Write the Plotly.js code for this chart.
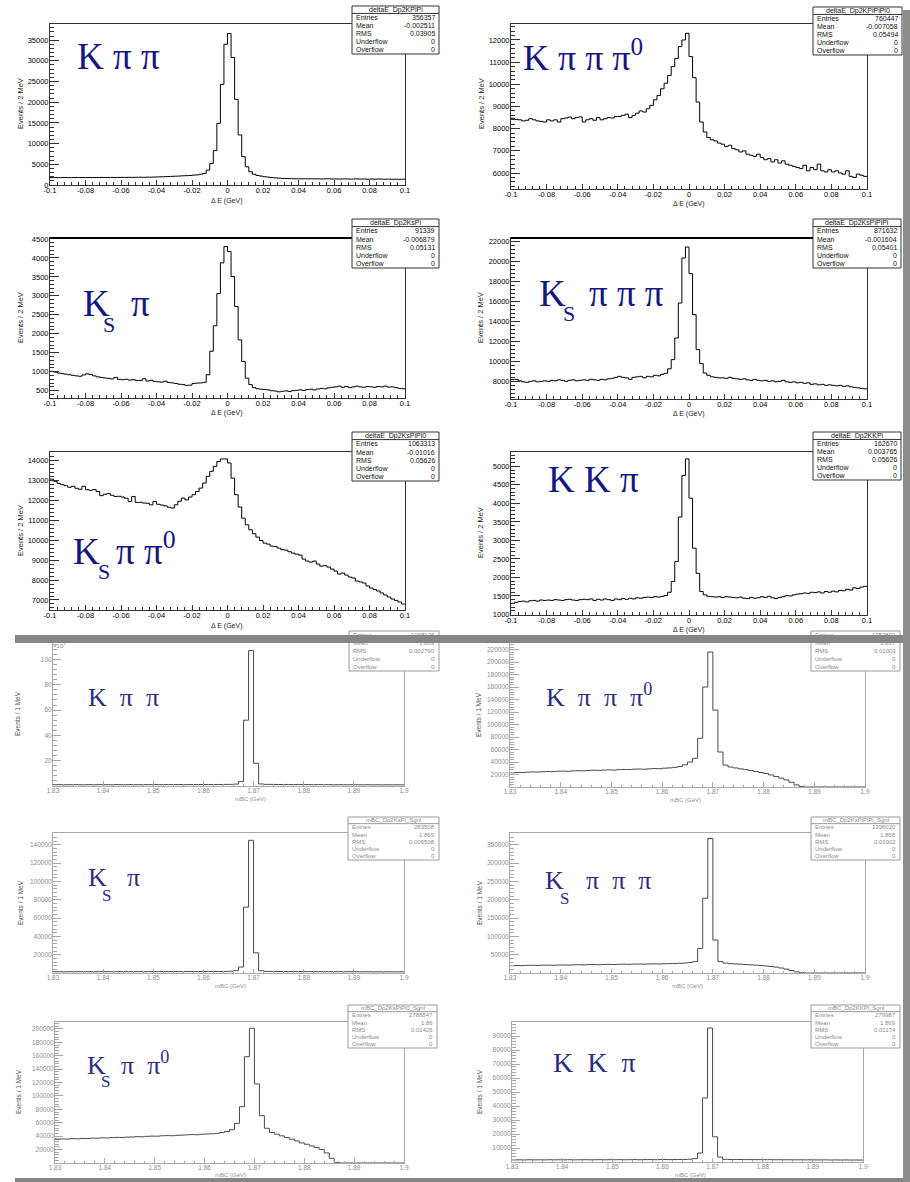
<!DOCTYPE html>
<html><head><meta charset="utf-8">
<script src="https://cdn.plot.ly/plotly-3.0.1.min.js"></script>
<style>html,body{margin:0;padding:0;background:#fff}#chart{width:910px;height:1182px}</style>
</head><body><div id="chart"></div>
<script>
// ---------------- DATA ----------------
const dE_range = [-0.1, 0.1];
const mBC_range = [1.83, 1.90];
const dE_tickVals = [-0.1,-0.08,-0.06,-0.04,-0.02,0,0.02,0.04,0.06,0.08,0.1];
const dE_tickText = ["-0.1","-0.08","-0.06","-0.04","-0.02","0","0.02","0.04","0.06","0.08","0.1"];
const mBC_tickVals = [1.83,1.84,1.85,1.86,1.87,1.88,1.89,1.9];
const mBC_tickText = ["1.83","1.84","1.85","1.86","1.87","1.88","1.89","1.9"];

const dE_KPiPi = [1780,1800,1770,1790,1810,1780,1800,1790,1810,1800,
 1790,1820,1800,1810,1830,1800,1820,1840,1810,1830,
 1850,1830,1860,1840,1870,1880,1860,1900,1890,1920,
 1950,1980,2010,2050,2090,2130,2170,2220,2260,2300,
 2380,2450,2600,2800,3600,5200,8300,14900,24300,34000,
 36600,30800,20700,12100,6850,4400,3200,2600,2300,2150,
 2000,1900,1800,1720,1650,1600,1560,1540,1520,1500,
 1490,1510,1480,1500,1470,1490,1460,1480,1500,1450,
 1470,1440,1460,1480,1430,1450,1470,1420,1460,1400,
 1440,1410,1450,1420,1400,1430,1390,1410,1380,1400];
const dE_KPiPiPi0 = [8470,8420,8400,8350,8380,8450,8400,8350,8330,8300,
 8400,8350,8400,8300,8450,8480,8520,8450,8500,8530,
 8300,8400,8450,8380,8500,8400,8450,8500,8480,8550,
 8550,8600,8650,8500,8600,8700,8800,8750,8900,9050,
 9300,9500,9800,10050,10400,10800,11170,11700,12000,12300,
 11250,10300,9200,8300,7850,7600,7500,7450,7350,7300,
 7200,7250,7100,7050,6950,7000,6850,6800,6750,6850,
 6700,6600,6650,6500,6600,6450,6550,6400,6350,6300,
 6250,6200,6350,6100,6250,6150,6400,6100,6050,6150,
 6050,6100,6000,5950,6100,5850,5800,5950,5900,5850];
const dE_KsPi = [1010,990,965,950,935,920,905,890,880,915,
 945,925,890,865,850,835,825,810,850,800,
 790,800,780,790,770,765,815,755,775,745,
 735,725,750,715,705,690,670,660,640,645,
 690,700,705,720,920,1540,2210,3060,3870,4300,
 4170,3510,2720,1840,1270,830,660,580,550,540,
 530,520,500,490,470,485,495,480,500,510,
 520,505,530,540,520,545,560,550,575,590,
 600,620,590,610,580,600,620,600,590,610,
 600,590,610,600,620,595,600,580,560,550];
const dE_KsPiPiPi = [8170,8200,8050,7950,7900,8000,8050,7950,8000,8050,
 8000,8100,8050,8150,8100,8000,8100,8150,8050,8100,
 8150,8100,8200,8150,8100,8200,8150,8250,8300,8400,
 8500,8400,8350,8200,8400,8450,8500,8350,8500,8450,
 8600,8550,8700,8800,9250,10170,12330,15830,20330,21430,
 18770,14670,11170,9770,8830,8600,8450,8400,8350,8350,
 8300,8400,8300,8250,8200,8250,8150,8100,8200,8100,
 8050,8100,8000,8050,7950,8000,8100,7950,7900,7950,
 7850,7900,7800,7850,7700,7750,7650,7700,7600,7650,
 7600,7550,7600,7500,7550,7450,7400,7350,7300,7250];
const dE_KsPiPi0 = [13060,12950,12850,12780,12730,12650,12700,12600,12550,12700,
 12530,12500,12530,12440,12230,12300,12330,12250,12190,12200,
 12160,12100,11940,12190,11890,11900,11860,11850,11770,11940,
 11800,11760,11720,11650,11610,11770,11950,12110,12020,12160,
 12280,12440,12610,12860,13200,13450,13700,13950,14070,14070,
 13870,13110,12280,11660,11100,10770,10520,10320,10150,9980,
 9850,9800,9700,9680,9600,9520,9500,9420,9350,9300,
 9250,9050,8950,8900,8950,8800,8700,8720,8650,8550,
 8450,8300,8350,8250,8150,8100,7950,7900,7850,7700,
 7600,7520,7450,7350,7250,7150,7050,6980,6900,6800];
const dE_KKPi = [1300,1330,1350,1360,1340,1370,1380,1360,1390,1380,
 1390,1380,1400,1390,1380,1400,1410,1390,1380,1400,
 1410,1400,1420,1380,1410,1390,1420,1400,1380,1420,
 1400,1430,1410,1440,1420,1450,1440,1460,1470,1460,
 1480,1470,1490,1510,1600,1890,2430,3630,4750,5200,
 4140,2790,2110,1620,1530,1490,1480,1470,1480,1460,
 1480,1470,1460,1450,1470,1440,1430,1460,1440,1450,
 1480,1460,1490,1450,1430,1460,1480,1510,1500,1530,
 1550,1560,1580,1570,1600,1590,1610,1580,1620,1600,
 1630,1610,1650,1640,1680,1660,1720,1700,1740,1760];

const mBC_KPiPi = [1000,1050,980,1020,1100,990,1030,1060,1010,1080,
 1040,1000,1090,1050,1020,1110,1070,1030,1120,1060,
 1100,1080,1140,1090,1120,1150,1100,1170,1130,1160,
 1190,1150,1200,1180,1250,1300,1500,3500,52000,107000,
 18000,1600,1300,1250,1200,1180,1220,1150,1170,1120,
 1140,1100,1080,1110,1050,1070,1020,1040,990,1010,
 980,960,1000,950,970,930,950,910,940,900];
const mBC_KPiPiPi0 = [22900,23300,23100,23800,24100,23900,24500,24800,24600,25200,
 25400,25100,25800,26100,25900,26500,26800,26600,27200,27400,
 27100,27800,28100,27900,28500,28700,28400,29100,29500,29300,
 30100,30600,31400,32800,35500,40000,46000,78000,160000,216000,
 123000,56000,35000,32000,30500,29000,27800,26300,24900,23200,
 21600,19300,16700,14100,11400,7600,3400,600,0,0,
 0,0,0,0,0,0,0,0,0,0];
const mBC_KsPi = [1400,1450,1380,1500,1420,1470,1390,1510,1440,1480,
 1460,1520,1430,1490,1550,1470,1510,1540,1480,1560,
 1520,1580,1500,1550,1600,1530,1590,1620,1560,1610,
 1650,1600,1680,1700,1750,1900,2500,6500,72000,145000,
 22000,2500,1800,1700,1650,1680,1600,1620,1570,1590,
 1540,1560,1500,1530,1480,1510,1450,1470,1420,1440,
 1400,1380,1410,1350,1370,1330,1360,1300,1320,1280];
const mBC_KsPiPiPi = [20000,20400,20200,20800,21000,20700,21300,21500,21200,21800,
 22000,21700,22300,22500,22200,22800,23000,22700,23300,23500,
 23200,23800,24000,23700,24300,24500,24200,24800,25000,24700,
 25300,25600,26000,26500,27200,28500,31000,67000,204000,367000,
 90000,31000,27000,25500,24800,24000,23200,22300,21400,20300,
 19200,17800,16000,13600,10500,6800,3200,600,0,0,
 0,0,0,0,0,0,0,0,0,0];
const mBC_KsPiPi0 = [35400,35900,35700,36300,36100,36700,36500,37100,37000,37600,
 37400,37900,38200,38000,38600,38800,39300,39100,39800,40100,
 40000,40600,40900,40700,41300,41600,42000,42400,42200,42900,
 43300,43700,44200,45500,47000,49700,59200,84000,158600,201000,
 118000,70600,51800,45500,43000,40500,38000,35500,33000,30000,
 28000,25500,23000,20000,15000,7000,1000,0,0,0,
 0,0,0,0,0,0,0,0,0,0];
const mBC_KKPi = [1500,1550,1480,1600,1520,1570,1490,1610,1540,1580,
 1560,1620,1530,1590,1650,1570,1610,1640,1580,1660,
 1620,1680,1600,1650,1700,1630,1690,1720,1660,1710,
 1750,1700,1780,1800,1850,2000,2400,6400,45700,95700,
 18000,3500,1900,1800,1750,1780,1700,1720,1670,1690,
 1640,1660,1600,1630,1580,1610,1550,1570,1520,1540,
 1500,1480,1510,1450,1470,1430,1460,1400,1420,1380];

const mBC_KPiPi_yTicks = [20000,40000,60000,80000,100000];
const mBC_KPiPi_yText = ["20","40","60","80","100"];
const mBC_KPiPiPi0_yTicks = [20000,40000,60000,80000,100000,120000,140000,160000,180000,200000,220000];
const mBC_KsPi_yTicks = [20000,40000,60000,80000,100000,120000,140000];
const mBC_KsPiPiPi_yTicks = [50000,100000,150000,200000,250000,300000,350000];
const mBC_KsPiPi0_yTicks = [20000,40000,60000,80000,100000,120000,140000,160000,180000,200000];
const mBC_KKPi_yTicks = [10000,20000,30000,40000,50000,60000,70000,80000,90000];

const statTop = [
 ["deltaE_Dp2KPiPi",     [["Entries","356357"],["Mean","-0.002511"],["RMS","0.03905"],["Underflow","0"],["Overflow","0"]]],
 ["deltaE_Dp2KPiPiPi0",  [["Entries","760447"],["Mean","-0.007058"],["RMS","0.05494"],["Underflow","0"],["Overflow","0"]]],
 ["deltaE_Dp2KsPi",      [["Entries","91339"],["Mean","-0.006879"],["RMS","0.05131"],["Underflow","0"],["Overflow","0"]]],
 ["deltaE_Dp2KsPiPiPi",  [["Entries","871632"],["Mean","-0.001604"],["RMS","0.05401"],["Underflow","0"],["Overflow","0"]]],
 ["deltaE_Dp2KsPiPi0",   [["Entries","1063313"],["Mean","-0.01016"],["RMS","0.05626"],["Underflow","0"],["Overflow","0"]]],
 ["deltaE_Dp2KKPi",      [["Entries","162670"],["Mean","0.003765"],["RMS","0.05626"],["Underflow","0"],["Overflow","0"]]]
];
const statBottom = [
 [null, [["Entries","1068126"],["Mean","1.869"],["RMS","0.002790"],["Underflow","0"],["Overflow","0"]]],
 [null, [["Entries","1753802"],["Mean","1.867"],["RMS","0.01003"],["Underflow","0"],["Overflow","0"]]],
 ["mBC_Dp2KsPi_Sgnl", [["Entries","283508"],["Mean","1.869"],["RMS","0.006508"],["Underflow","0"],["Overflow","0"]]],
 ["mBC_Dp2KsPiPiPi_Sgnl", [["Entries","1396020"],["Mean","1.868"],["RMS","0.01002"],["Underflow","0"],["Overflow","0"]]],
 ["mBC_Dp2KsPiPi0_Sgnl", [["Entries","2788847"],["Mean","1.86"],["RMS","0.01426"],["Underflow","0"],["Overflow","0"]]],
 ["mBC_Dp2KKPi_Sgnl", [["Entries","279987"],["Mean","1.869"],["RMS","0.01174"],["Underflow","0"],["Overflow","0"]]]
];

// ---------------- LAYOUT HELPERS ----------------
const W = 910, H = 1182;
const px = x => x / W;
const py = y => 1 - y / H;
const SANS = "Liberation Sans, Arial, sans-serif";
const SERIF = "Liberation Serif, Times New Roman, serif";

const panels = [
 {v:dE_KPiPi,    xr:dE_range, f:[50,24,405,185],  yr:[0,38900],    yt0:0,    ydt:5000, ym:1000, xt:[227,201], yt:[20,104], box:[352,6,439,54]},
 {v:dE_KPiPiPi0, xr:dE_range, f:[511,24,867,189], yr:[5280,12720], yt0:6000, ydt:1000, ym:200,  xt:[689,204], yt:[481,104], box:[813,7,902,55]},
 {v:dE_KsPi,     xr:dE_range, f:[50,238,405,398], yr:[307,4525],   yt0:500,  ydt:500,  ym:100,  xt:[227,413], yt:[20,318], box:[352,219,439,268], thickTop:true},
 {v:dE_KsPiPiPi, xr:dE_range, f:[511,238,867,399],yr:[6233,22333], yt0:8000, ydt:2000, ym:400,  xt:[689,414], yt:[480,318], box:[813,219,901,268], thickTop:true},
 {v:dE_KsPiPi0,  xr:dE_range, f:[50,452,405,610], yr:[6498,14419], yt0:7000, ydt:1000, ym:200,  xt:[227,626], yt:[20,531], box:[352,432,439,481]},
 {v:dE_KKPi,     xr:dE_range, f:[511,452,867,615],yr:[986,5387],   yt0:1500, ydt:500,  ym:100,  xt:[689,630], yt:[480,533], box:[813,432,901,480]},
 {v:mBC_KPiPi,    xr:mBC_range, f:[53,643,404,786],  yr:[0,113000], ytv:mBC_KPiPi_yTicks, ytt:mBC_KPiPi_yText, ym:4000,  xt:[250,799],  yt:[17,714],  box:[349,631,439,671], bottom:true},
 {v:mBC_KPiPiPi0, xr:mBC_range, f:[510,643,865,787], yr:[0,230400], ytv:mBC_KPiPiPi0_yTicks, ym:4000,  xt:[685,800],  yt:[478,715], box:[811,631,900,671], bottom:true},
 {v:mBC_KsPi,     xr:mBC_range, f:[53,833,404,973],  yr:[0,153000], ytv:mBC_KsPi_yTicks, ym:4000,  xt:[230,986],  yt:[20,903],  box:[348,817,439,860], bottom:true},
 {v:mBC_KsPiPiPi, xr:mBC_range, f:[510,833,865,973], yr:[0,382000], ytv:mBC_KsPiPiPi_yTicks, ym:10000, xt:[687,986],  yt:[479,903], box:[811,817,900,860], bottom:true},
 {v:mBC_KsPiPi0,  xr:mBC_range, f:[55,1022,404,1163],yr:[0,210400], ytv:mBC_KsPiPi0_yTicks, ym:4000,  xt:[230,1175], yt:[18,1092], box:[348,1005,437,1048], bottom:true},
 {v:mBC_KKPi,     xr:mBC_range, f:[512,1022,863,1162],yr:[0,100000],ytv:mBC_KKPi_yTicks, ym:2000,  xt:[690,1175], yt:[479,1092], box:[811,1005,900,1048], bottom:true}
];

const data = [];
const layout = {
  width: W, height: H, margin:{l:0,r:0,t:0,b:0},
  paper_bgcolor:'#ffffff', plot_bgcolor:'#ffffff', showlegend:false,
  font:{family:SANS, color:'#111'}
};
const ann = [], shapes = [];

function stepXY(lo, hi, vals){
  const n = vals.length, w = (hi - lo) / n, x = [], y = [];
  for (let i = 0; i < n; i++){ x.push(lo + i * w); y.push(vals[i]); }
  x.push(hi); y.push(vals[n - 1]);
  return {x, y};
}

function statBox(b, title, rows, faded){
  const [x0,y0,x1,y1] = b, h = y1 - y0;
  const lc = faded ? '#9a9a9a' : '#333', tc = faded ? '#8a8a8a' : '#111', fs = faded ? 6 : 7;
  shapes.push({type:'rect', xref:'paper', yref:'paper', x0:px(x0), x1:px(x1), y0:py(y1), y1:py(y0),
    fillcolor:'#fff', line:{color:lc, width:1}, layer:'above'});
  let th = 0;
  if (title !== null){
    th = 0.155 * h;
    ann.push({xref:'paper', yref:'paper', x:px((x0+x1)/2), y:py(y0+th/2), xanchor:'center', yanchor:'middle',
      text:title, showarrow:false, borderpad:0, font:{family:SANS, size:fs, color:tc}});
    shapes.push({type:'line', xref:'paper', yref:'paper', x0:px(x0), x1:px(x1), y0:py(y0+th), y1:py(y0+th),
      line:{color:lc, width:1}, layer:'above'});
  }
  const rh = (h - th) / rows.length;
  rows.forEach((r, i) => {
    const yc = y0 + th + rh * (i + 0.5);
    ann.push({xref:'paper', yref:'paper', x:px(x0+3), y:py(yc), xanchor:'left', yanchor:'middle',
      text:r[0], showarrow:false, borderpad:0, font:{family:SANS, size:fs, color:tc}});
    ann.push({xref:'paper', yref:'paper', x:px(x1-3), y:py(yc), xanchor:'right', yanchor:'middle',
      text:r[1], showarrow:false, borderpad:0, font:{family:SANS, size:fs, color:tc}});
  });
}

function bigLabel(pieces, color){
  pieces.forEach(p => {
    const [t, x, base, size] = p;
    ann.push({xref:'paper', yref:'paper', x:px(x), y:py(base + 0.216 * size), xanchor:'left', yanchor:'bottom',
      text:t, showarrow:false, borderpad:0, font:{family:SERIF, size:size, color:color}});
  });
}

panels.forEach((p, i) => {
  const s = i === 0 ? '' : String(i + 1);
  const xy = stepXY(p.xr[0], p.xr[1], p.v);
  const faded = !!p.bottom;
  data.push({type:'scatter', mode:'lines', x:xy.x, y:xy.y, xaxis:'x'+s, yaxis:'y'+s,
    line:{shape:'hv', color: faded ? '#4a4a4a' : '#000', width:1}, hoverinfo:'skip'});
  const [fx0, fy0, fx1, fy1] = p.f;
  const axCol = faded ? '#a8a8a8' : '#333';
  const tfont = {family:SANS, size: faded ? 6.5 : 7.5, color: faded ? '#8c8c8c' : '#000'};
  const fw = fx1 - fx0, fh = fy1 - fy0;
  const xa = {domain:[px(fx0), px(fx1)], range:p.xr, anchor:'y'+s, showline:true, mirror:true,
    linecolor:axCol, linewidth:1, ticks:'inside', ticklen: Math.round(fh*0.032), tickcolor:axCol, tickwidth:1,
    tickmode:'array', tickvals: faded ? mBC_tickVals : dE_tickVals, ticktext: faded ? mBC_tickText : dE_tickText,
    tickfont:tfont, ticklabelstandoff:-2, showgrid:false, zeroline:false, fixedrange:true,
    minor:{ticks:'inside', ticklen: Math.round(fh*0.016), tickcolor:axCol, tickwidth:1, tickmode:'linear',
      tick0:p.xr[0], dtick: faded ? 0.002 : 0.004, showgrid:false}};
  const ya = {domain:[py(fy1), py(fy0)], range:p.yr, anchor:'x'+s, showline:true, mirror:true,
    linecolor:axCol, linewidth:1, ticks:'inside', ticklen: Math.round(fw*0.024), tickcolor:axCol, tickwidth:1,
    tickfont:tfont, ticklabelstandoff:-1, showgrid:false, zeroline:false, fixedrange:true, exponentformat:'none', tickformat:'d',
    minor:{ticks:'inside', ticklen: Math.round(fw*0.012), tickcolor:axCol, tickwidth:1, tickmode:'linear',
      tick0: faded ? 0 : p.yt0, dtick:p.ym, showgrid:false}};
  if (p.ytv){ ya.tickmode = 'array'; ya.tickvals = p.ytv; ya.ticktext = p.ytt || p.ytv.map(v => String(v)); }
  else { ya.tickmode = 'linear'; ya.tick0 = p.yt0; ya.dtick = p.ydt; }
  layout['xaxis'+s] = xa; layout['yaxis'+s] = ya;

  if (p.thickTop){
    shapes.push({type:'line', xref:'paper', yref:'paper', x0:px(fx0), x1:px(fx1), y0:py(fy0), y1:py(fy0),
      line:{color:'#000', width:2}, layer:'above'});
  }
  // axis titles
  ann.push({xref:'paper', yref:'paper', x:px(p.xt[0]), y:py(p.xt[1]), xanchor:'center', yanchor:'middle',
    text: faded ? 'mBC (GeV)' : 'Δ E (GeV)', showarrow:false, borderpad:0,
    font:{family:SANS, size: faded ? 6 : 7, color: faded ? '#8c8c8c' : '#222'}});
  ann.push({xref:'paper', yref:'paper', x:px(p.yt[0]), y:py(p.yt[1]), xanchor:'center', yanchor:'middle',
    text: faded ? 'Events / 1 MeV' : 'Events / 2 MeV', textangle:-90, showarrow:false, borderpad:0,
    font:{family:SANS, size: faded ? 6.5 : 7.5, color: faded ? '#555' : '#222'}});
  // stat boxes
  const st = faded ? statBottom[i-6] : statTop[i];
  statBox(p.box, st[0], st[1], faded);
});

// x10^3 multiplier on first mBC panel
ann.push({xref:'paper', yref:'paper', x:px(52), y:py(645), xanchor:'left', yanchor:'middle',
  text:'×10<sup>3</sup>', showarrow:false, borderpad:0, font:{family:SANS, size:6, color:'#8c8c8c'}});

// big decay-mode labels
const NB = '\u00a0', NB2 = '\u00a0\u00a0';
const TOPC = '#16167f', BOTC = '#2c2c80';
bigLabel([['K'+NB+'π'+NB+'π', 76, 70, 37]], TOPC);
bigLabel([['K'+NB+'π'+NB+'π'+NB+'π<sup>0</sup>', 522, 71, 36]], TOPC);
bigLabel([['K', 82, 317, 37], ['S', 102, 333, 22], ['π', 130, 317, 37]], TOPC);
bigLabel([['K', 538, 307, 37], ['S', 562, 322, 22], ['π'+NB+'π'+NB+'π', 588, 307, 37]], TOPC);
bigLabel([['K', 72, 565, 37], ['S', 97, 580, 22], ['π'+NB+'π<sup>0</sup>', 115, 565, 37]], TOPC);
bigLabel([['K'+NB+'K'+NB+'π', 547, 493, 37]], TOPC);

bigLabel([['K'+NB2+'π'+NB2+'π', 87, 707, 26]], BOTC);
bigLabel([['K'+NB2+'π'+NB2+'π'+NB2+'π<sup>0</sup>', 545, 707, 26]], BOTC);
bigLabel([['K', 87, 887, 26], ['S', 101, 902, 17], ['π', 126, 887, 26]], BOTC);
bigLabel([['K', 544, 890, 26], ['S', 559, 905, 17], ['π'+NB2+'π'+NB2+'π', 585, 890, 26]], BOTC);
bigLabel([['K', 86, 1075, 26], ['S', 100, 1088, 17], ['π'+NB2+'π<sup>0</sup>', 120, 1075, 26]], BOTC);
bigLabel([['K'+NB2+'K'+NB2+'π', 552, 1073, 28]], BOTC);

// slide frame bands
shapes.push({type:'rect', xref:'paper', yref:'paper', x0:px(15), x1:px(910), y0:py(643), y1:py(635),
  fillcolor:'#858585', line:{width:0}, layer:'above'});
shapes.push({type:'rect', xref:'paper', yref:'paper', x0:px(15), x1:px(910), y0:py(1182), y1:py(1178),
  fillcolor:'#858585', line:{width:0}, layer:'above'});
shapes.push({type:'rect', xref:'paper', yref:'paper', x0:px(903), x1:px(910), y0:py(1182), y1:py(10),
  fillcolor:'#8c8c8c', line:{width:0}, layer:'above'});

layout.annotations = ann;
layout.shapes = shapes;

Plotly.newPlot('chart', data, layout, {displayModeBar:false, staticPlot:true});
</script>
</body></html>
